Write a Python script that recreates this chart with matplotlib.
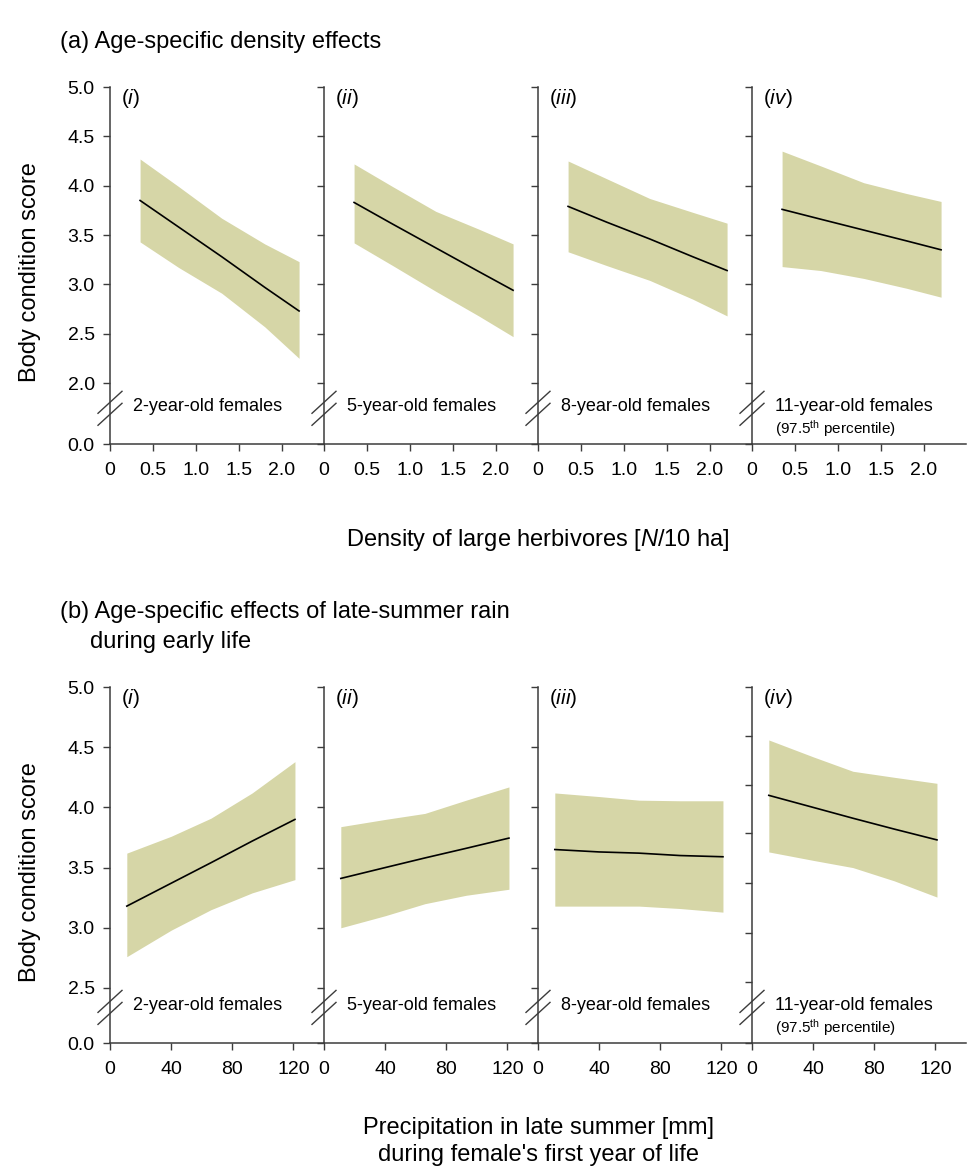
#!/usr/bin/env python3
"""Age-specific body condition: density and late-summer rain panels."""

import numpy as np
import matplotlib
matplotlib.use("Agg")
import matplotlib.pyplot as plt

plt.rcParams["font.family"] = ["Liberation Sans", "DejaVu Sans"]
plt.rcParams["mathtext.fontset"] = "custom"
plt.rcParams["mathtext.rm"] = "Liberation Sans"
plt.rcParams["mathtext.it"] = "Liberation Sans:italic"

# ---- data -------------------------------------------------------------
panel_ids = ["i", "ii", "iii", "iv"]
age_labels = ["2-year-old females", "5-year-old females",
              "8-year-old females", "11-year-old females"]
pct_note = r"(97.5$^{\mathrm{th}}$ percentile)"

# (a) density of large herbivores
dens_x = [0.35, 0.8, 1.3, 1.8, 2.2]
dens_fit = [
    [3.85, 3.58, 3.28, 2.97, 2.73],
    [3.83, 3.61, 3.37, 3.13, 2.94],
    [3.79, 3.63, 3.46, 3.28, 3.14],
    [3.76, 3.66, 3.55, 3.44, 3.35],
]
dens_hi = [
    [4.27, 3.99, 3.67, 3.41, 3.23],
    [4.22, 3.99, 3.74, 3.56, 3.41],
    [4.25, 4.07, 3.87, 3.73, 3.62],
    [4.35, 4.20, 4.03, 3.92, 3.84],
]
dens_lo = [
    [3.43, 3.17, 2.91, 2.57, 2.25],
    [3.42, 3.19, 2.93, 2.68, 2.47],
    [3.33, 3.19, 3.04, 2.85, 2.68],
    [3.18, 3.14, 3.06, 2.96, 2.87],
]
dens_ticks = [0, 0.5, 1.0, 1.5, 2.0]
dens_ticklabels = ["0", "0.5", "1.0", "1.5", "2.0"]
dens_yticks = [0.0, 2.0, 2.5, 3.0, 3.5, 4.0, 4.5, 5.0]

# (b) late-summer precipitation in first year of life
rain_x = [11, 40, 66, 93, 121]
rain_fit = [
    [3.18, 3.37, 3.54, 3.72, 3.90],
    [3.41, 3.50, 3.58, 3.66, 3.745],
    [3.65, 3.63, 3.62, 3.60, 3.59],
    [4.10, 4.00, 3.91, 3.82, 3.73],
]
rain_hi = [
    [3.62, 3.76, 3.91, 4.12, 4.38],
    [3.84, 3.90, 3.95, 4.06, 4.17],
    [4.12, 4.09, 4.06, 4.055, 4.055],
    [4.56, 4.42, 4.30, 4.25, 4.20],
]
rain_lo = [
    [2.76, 2.98, 3.15, 3.29, 3.40],
    [3.00, 3.10, 3.20, 3.27, 3.32],
    [3.18, 3.18, 3.18, 3.16, 3.13],
    [3.63, 3.56, 3.50, 3.39, 3.255],
]
rain_ticks = [0, 40, 80, 120]
rain_ticklabels = ["0", "40", "80", "120"]
rain_yticks = [0.0, 2.5, 3.0, 3.5, 4.0, 4.5, 5.0]
# last panel of (b) was pasted in with its own tick spacing
rain_yticks_iv = [0.0, 2.55, 2.96, 3.37, 3.79, 4.19, 4.59, 5.0]

BAND = "#d6d6a7"
SPINE = "#3c3c3c"
W, H = 971, 1168


def broken_scale(lo, gap):
    """y axis with the 0..lo stretch squeezed into `gap` units."""
    def fwd(v):
        v = np.asarray(v, float)
        return np.where(v >= lo, v - lo + gap, v * gap / lo)

    def inv(u):
        u = np.asarray(u, float)
        return np.where(u >= gap, u - gap + lo, u * lo / gap)
    return fwd, inv


def draw_group(top, height, lo, gap, xs, fit, hi, low, xlim, xticks,
               xticklabels, yticks, yticks_last):
    axes = []
    for k in range(4):
        ax = fig.add_axes([(110 + 214 * k) / W, 1 - (top + height) / H,
                           214 / W, height / H])
        ax.set_facecolor("none")
        ax.set_yscale("function", functions=broken_scale(lo, gap))
        ax.set_ylim(0, 5.0)
        ax.set_xlim(*xlim)

        ax.fill_between(xs, low[k], hi[k], color=BAND, lw=0)
        ax.plot(xs, fit[k], color="black", lw=1.2)

        for s in ["top", "right"]:
            ax.spines[s].set_visible(False)
        for s in ["left", "bottom"]:
            ax.spines[s].set_color(SPINE)
            ax.spines[s].set_linewidth(1.1)

        ax.set_xticks(xticks)
        ax.set_xticklabels(xticklabels)
        yt = yticks_last if (k == 3 and yticks_last is not None) else yticks
        ax.set_yticks(yt)
        if k == 0:
            ax.set_yticklabels([f"{v:.1f}" for v in yt])
        else:
            ax.set_yticklabels([])
        ax.tick_params(direction="out", length=5, width=1.0, color=SPINE,
                       labelsize=14, pad=6)
        ax.tick_params(axis="x", pad=8)

        # panel tag
        ax.text(11 / 214, 1 - 11 / height, "(" + r"$\mathit{%s}$" % panel_ids[k] + ")",
                transform=ax.transAxes, ha="left", va="center", fontsize=15)

        # age label in the axis break
        ax.text(23 / 214, 0.106, age_labels[k], transform=ax.transAxes,
                ha="left", va="center", fontsize=13)
        if k == 3:
            ax.text(23 / 214, 0.043, pct_note, transform=ax.transAxes,
                    ha="left", va="center", fontsize=11)

        # break marks
        dx, dy = 12 / 214, 11 / height
        for off in (-6 / height, 6 / height):
            ax.plot([-dx, dx], [0.1 + off - dy, 0.1 + off + dy],
                    transform=ax.transAxes, color=SPINE, lw=1.0,
                    clip_on=False)
        axes.append(ax)
    return axes


fig = plt.figure(figsize=(W / 100, H / 100), dpi=100)

draw_group(87, 357, 2.0, 0.618, dens_x, dens_fit, dens_hi, dens_lo,
           (0, 2.49), dens_ticks, dens_ticklabels, dens_yticks, None)
draw_group(687, 356, 2.5, 0.457, rain_x, rain_fit, rain_hi, rain_lo,
           (0, 140), rain_ticks, rain_ticklabels, rain_yticks, rain_yticks_iv)

# titles and axis labels
fig.text(60 / W, 1 - 42 / H, "(a) Age-specific density effects",
         fontsize=17, ha="left", va="center")
fig.text(60 / W, 1 - 612 / H, "(b) Age-specific effects of late-summer rain",
         fontsize=17, ha="left", va="center")
fig.text(90 / W, 1 - 642 / H, "during early life",
         fontsize=17, ha="left", va="center")

fig.text(30 / W, 1 - 272 / H, "Body condition score", rotation=90,
         fontsize=17, ha="center", va="center")
fig.text(30 / W, 1 - 872 / H, "Body condition score", rotation=90,
         fontsize=17, ha="center", va="center")

fig.text(538 / W, 1 - 540 / H,
         r"Density of large herbivores [$\mathit{N}$/10 ha]",
         fontsize=17, ha="center", va="center")
fig.text(538 / W, 1 - 1128 / H, "Precipitation in late summer [mm]",
         fontsize=17, ha="center", va="center")
fig.text(538 / W, 1 - 1155 / H, "during female's first year of life",
         fontsize=17, ha="center", va="center")

fig.savefig("out.png", dpi=100)
